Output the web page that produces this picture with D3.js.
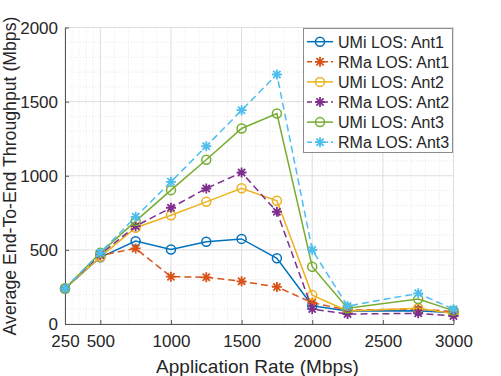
<!DOCTYPE html>
<html>
<head>
<meta charset="utf-8">
<script src="https://cdn.jsdelivr.net/npm/d3@7"></script>
<style>
  body { margin: 0; background: #fff; }
  text { font-family: "Liberation Sans", Arial, sans-serif; fill: #262626; }
</style>
</head>
<body>
<div class="canvas"></div>
<script>
// data
const rates = [250, 500, 750, 1000, 1250, 1500, 1750, 2000, 2250, 2750, 3000];
const umiAnt1 = [240, 450, 559, 503, 555, 574, 443, 123, 88, 90, 76];
const rmaAnt1 = [240, 462, 510, 319, 315, 288, 250, 144, 94, 100, 84];
const umiAnt2 = [240, 453, 649, 734, 824, 916, 831, 195, 88, 106, 70];
const rmaAnt2 = [240, 470, 660, 784, 914, 1022, 757, 101, 67, 72, 54];
const umiAnt3 = [240, 480, 694, 903, 1108, 1319, 1420, 386, 106, 168, 90];
const rmaAnt3 = [240, 480, 723, 959, 1199, 1442, 1683, 499, 121, 207, 99];
const seriesNames = ['UMi LOS: Ant1', 'RMa LOS: Ant1', 'UMi LOS: Ant2', 'RMa LOS: Ant2', 'UMi LOS: Ant3', 'RMa LOS: Ant3'];
const xTicks = [250, 500, 1000, 1500, 2000, 2500, 3000];
const yTicks = [0, 500, 1000, 1500, 2000];

const colors = ['#0072BD', '#D95319', '#EDB120', '#7E2F8E', '#77AC30', '#4DBEEE'];
const series = [umiAnt1, rmaAnt1, umiAnt2, rmaAnt2, umiAnt3, rmaAnt3].map((vals, i) => ({
  name: seriesNames[i],
  color: colors[i],
  dashed: i % 2 == 1,
  marker: i % 2 == 0 ? 'circle' : 'star',
  values: vals.map((v, j) => ({x: rates[j], y: v}))
}));

const svg = d3.select('.canvas')
  .append('svg')
  .attr('width', 501)
  .attr('height', 376);

const margin = {top: 27.5, right: 47.5, bottom: 52, left: 65}
const graphWidth = 501 - margin.left - margin.right
const graphHeight = 376 - margin.top - margin.bottom

const graph = svg.append('g')
  .attr('transform', `translate(${margin.left}, ${margin.top})`)

const x = d3.scaleLinear().domain([250, 3000]).range([0, graphWidth]);
const y = d3.scaleLinear().domain([0, 2000]).range([graphHeight, 0]);

// minor grid (dotted)
const xMinor = [300, 350, 400, 450];
for (let v = 600; v < 3000; v += 100) if (v % 500 != 0) xMinor.push(v);
const yMinor = d3.range(100, 2000, 100).filter(v => v % 500 != 0);

graph.append('g').selectAll('line').data(xMinor).enter().append('line')
  .attr('x1', d => x(d)).attr('x2', d => x(d))
  .attr('y1', 0).attr('y2', graphHeight)
  .attr('stroke', '#e6e6e6').attr('stroke-dasharray', '1,2');
graph.append('g').selectAll('line').data(yMinor).enter().append('line')
  .attr('y1', d => y(d)).attr('y2', d => y(d))
  .attr('x1', 0).attr('x2', graphWidth)
  .attr('stroke', '#e6e6e6').attr('stroke-dasharray', '1,2');

// major grid
graph.append('g').selectAll('line').data(xTicks).enter().append('line')
  .attr('x1', d => x(d)).attr('x2', d => x(d))
  .attr('y1', 0).attr('y2', graphHeight)
  .attr('stroke', '#dedede');
graph.append('g').selectAll('line').data(yTicks).enter().append('line')
  .attr('y1', d => y(d)).attr('y2', d => y(d))
  .attr('x1', 0).attr('x2', graphWidth)
  .attr('stroke', '#dedede');

// axes (ticks point inward like matlab)
const xAxis = d3.axisBottom(x).tickValues(xTicks).tickFormat(d3.format('d')).tickSizeInner(-4).tickSizeOuter(0);
const yAxis = d3.axisLeft(y).tickValues(yTicks).tickFormat(d3.format('d')).tickSizeInner(-4).tickSizeOuter(0);

const xAxisGroup = graph.append('g').attr('transform', `translate(0, ${graphHeight})`).call(xAxis);
const yAxisGroup = graph.append('g').call(yAxis);

[xAxisGroup, yAxisGroup].forEach(g => {
  g.select('.domain').attr('stroke', '#555');
  g.selectAll('.tick line').attr('stroke', '#555');
  g.selectAll('text')
    .attr('font-family', '"Liberation Sans", Arial, sans-serif')
    .attr('font-size', 17)
    .attr('fill', '#262626');
});
xAxisGroup.selectAll('text').attr('y', 23).attr('dy', 0);
yAxisGroup.selectAll('text').attr('x', -7).attr('dy', '0.33em');

// axis labels
svg.append('text')
  .attr('x', 257.5).attr('y', 372.5)
  .attr('text-anchor', 'middle')
  .attr('font-size', 19)
  .text('Application Rate (Mbps)');

svg.append('text')
  .attr('transform', 'translate(16, 176) rotate(-90)')
  .attr('text-anchor', 'middle')
  .attr('font-size', 17.7)
  .text('Average End-To-End Throughput (Mbps)');

// markers
const drawMarker = (sel, s, cx, cy) => {
  if (s.marker == 'circle') {
    sel.append('circle')
      .attr('cx', cx).attr('cy', cy).attr('r', 4.5)
      .attr('fill', 'none').attr('stroke', s.color).attr('stroke-width', 1.5);
  } else {
    const r = 5, d = r * 0.72;
    const p = `M${cx - r},${cy}L${cx + r},${cy}M${cx},${cy - r}L${cx},${cy + r}` +
      `M${cx - d},${cy - d}L${cx + d},${cy + d}M${cx - d},${cy + d}L${cx + d},${cy - d}`;
    sel.append('path').attr('d', p)
      .attr('stroke', s.color).attr('stroke-width', 1.8).attr('fill', 'none');
  }
}

const line = d3.line().x(d => x(d.x)).y(d => y(d.y));

series.forEach(s => {
  const g = graph.append('g');
  g.append('path')
    .datum(s.values)
    .attr('d', line)
    .attr('fill', 'none')
    .attr('stroke', s.color)
    .attr('stroke-width', 1.5)
    .attr('stroke-dasharray', s.dashed ? '7,4' : null);
  s.values.forEach(d => drawMarker(g, s, x(d.x), y(d.y)));
});

// legend
const legend = svg.append('g');
legend.append('rect')
  .attr('x', 303.5).attr('y', 28.5)
  .attr('width', 149).attr('height', 124)
  .attr('fill', '#fff').attr('stroke', '#8c8c8c');

series.forEach((s, i) => {
  const ly = 41.7 + i * 20.1;
  legend.append('line')
    .attr('x1', 307).attr('x2', 333)
    .attr('y1', ly).attr('y2', ly)
    .attr('stroke', s.color).attr('stroke-width', 1.5)
    .attr('stroke-dasharray', s.dashed ? '5,3' : null);
  drawMarker(legend, s, 320, ly);
  legend.append('text')
    .attr('x', 338).attr('y', ly + 5.8)
    .attr('font-size', 16)
    .text(s.name);
});
</script>
</body>
</html>
